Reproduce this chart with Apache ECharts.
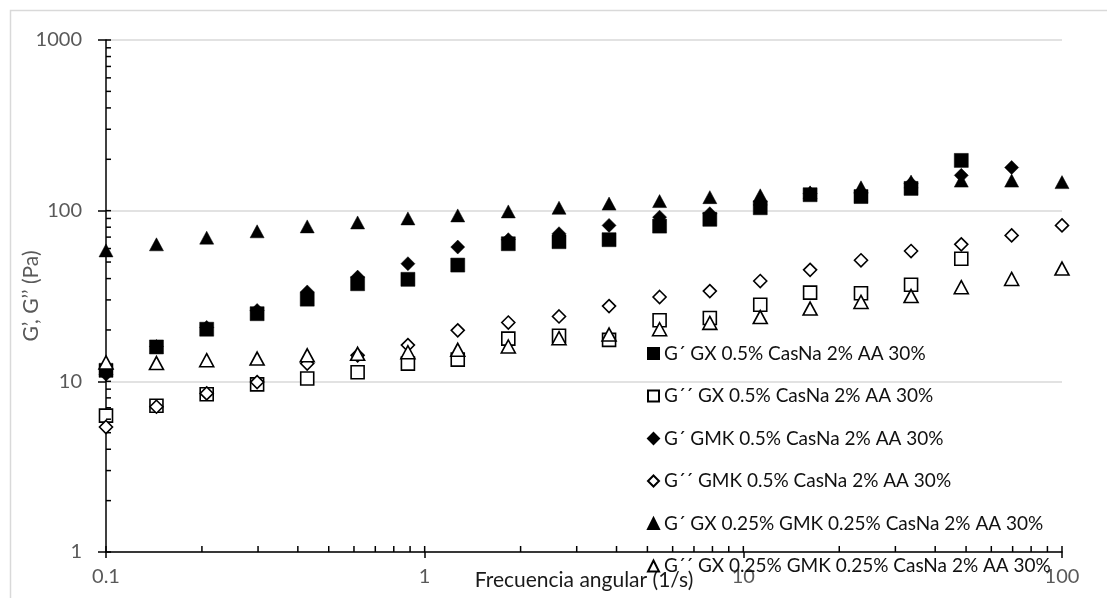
<!DOCTYPE html>
<html>
<head>
<meta charset="utf-8">
<script src="https://cdn.jsdelivr.net/npm/echarts@6/dist/echarts.min.js"></script>
<style>
  html, body { margin: 0; padding: 0; background: #ffffff; }
  #chart { width: 1107px; height: 598px; }
</style>
</head>
<body>
<div id="chart"></div>
<script>
// Angular frequency (1/s)
const frecuencia = [0.1, 0.144, 0.207, 0.298, 0.428, 0.616, 0.886, 1.27, 1.83, 2.64,
                    3.79, 5.46, 7.85, 11.3, 16.2, 23.4, 33.6, 48.3, 69.5, 100];

// Moduli (Pa)
const gpGX      = [11.6, 15.9, 20.2, 24.9, 30.3, 37.3, 39.6, 48, 64, 65.8,
                   67.6, 81.2, 89, 104, 124, 121, 135, 197, null, null];
const gppGX     = [6.3, 7.2, 8.4, 9.6, 10.4, 11.3, 12.7, 13.4, 17.8, 18.5,
                   17.5, 22.8, 23.5, 28.1, 33.1, 32.8, 36.8, 52.3, null, null];
const gpGMK     = [11, 16, 20.7, 26, 33.4, 40.8, 48.9, 61.2, 67.6, 73.3,
                   82, 91.6, 96, 108, 126, 128, 144, 161, 179, null];
const gppGMK    = [5.4, 7.1, 8.5, 9.9, 12.7, 14.2, 16.3, 19.9, 22.1, 24,
                   27.6, 31.2, 33.8, 38.7, 45, 51.2, 58, 63.5, 71.6, 82];
const gpMezcla  = [58.5, 63.5, 69.5, 75.7, 80.9, 85.3, 90.1, 93.8, 99, 104,
                   110, 113.8, 120, 123, 128, 137, 148, 150, 150, 147];
const gppMezcla = [12.9, 12.8, 13.3, 13.6, 14.2, 14.5, 14.8, 15.3, 16.0, 17.9,
                   18.8, 20.2, 22, 23.8, 26.7, 29.2, 31.6, 35.6, 39.8, 45.8];

const nombres = [
  'G\u00b4 GX 0.5% CasNa 2% AA 30%',
  'G\u00b4\u00b4 GX 0.5% CasNa 2% AA 30%',
  'G\u00b4 GMK 0.5% CasNa 2% AA 30%',
  'G\u00b4\u00b4 GMK 0.5% CasNa 2% AA 30%',
  'G\u00b4 GX 0.25% GMK 0.25% CasNa 2% AA 30%',
  'G\u00b4\u00b4 GX 0.25% GMK 0.25% CasNa 2% AA 30%'
];

// Axis tick values
const xTicks = [0.1, 1, 10, 100];
const yTicks = [1, 10, 100, 1000];

const FONT = 'Lato, "Open Sans", sans-serif';

function pares(ys) {
  const out = [];
  for (let i = 0; i < frecuencia.length; i++) {
    if (ys[i] != null) out.push([frecuencia[i], ys[i]]);
  }
  return out;
}

function serie(name, ys, symbol, size, filled) {
  return {
    name: name,
    type: 'scatter',
    data: pares(ys),
    symbol: symbol,
    symbolSize: size,
    itemStyle: filled
      ? { color: '#000000', borderColor: '#000000', borderWidth: 0.5, opacity: 1 }
      : { color: '#ffffff', borderColor: '#000000', borderWidth: 1.6, opacity: 1 },
    emphasis: { disabled: true }
  };
}

// Inside tick marks for the log axes: minor 2..9 per decade plus the inner half of majors
const tickMarks = [];
function decadas(ticks, flag) {
  for (let d = 0; d < ticks.length; d++) {
    const base = ticks[d];
    tickMarks.push(flag === 0 ? [xTicks[0], base, 0] : [base, yTicks[0], 1]);
    if (d < ticks.length - 1) {
      for (let m = 2; m <= 9; m++) {
        const v = +(base * m).toPrecision(3);
        tickMarks.push(flag === 0 ? [xTicks[0], v, 0] : [v, yTicks[0], 1]);
      }
    }
  }
}
decadas(yTicks, 0);
decadas(xTicks, 1);

const chart = echarts.init(document.getElementById('chart'), null, { renderer: 'canvas' });

chart.setOption({
  animation: false,
  backgroundColor: '#ffffff',
  textStyle: { fontFamily: FONT },
  graphic: [{
    type: 'rect',
    left: 8, top: 8,
    shape: { width: 1130, height: 620 },
    style: { fill: 'none', stroke: '#d9d9d9', lineWidth: 1.5 },
    silent: true, z: -10
  }],
  grid: {
    left: 106, right: 45, top: 40, bottom: 46,
    containLabel: false,
    outerBoundsMode: 'none'
  },
  legend: {
    orient: 'vertical',
    left: 642,
    top: 339,
    itemGap: 23.5,
    itemWidth: 11,
    itemHeight: 11,
    data: nombres,
    textStyle: { fontFamily: FONT, fontSize: 19, color: '#111111' },
    selectedMode: false
  },
  xAxis: {
    type: 'log',
    logBase: 10,
    min: xTicks[0],
    max: xTicks[xTicks.length - 1],
    name: 'Frecuencia angular (1/s)',
    nameLocation: 'middle',
    nameGap: 18,
    nameMoveOverlap: false,
    nameTextStyle: { fontFamily: FONT, fontSize: 21, color: '#1a1a1a' },
    axisLine: { lineStyle: { color: '#000000', width: 1.5 } },
    axisTick: { show: true, length: 6, lineStyle: { color: '#000000', width: 1.5 } },
    axisLabel: {
      margin: 15, fontSize: 20, color: '#595959', fontFamily: FONT,
      formatter: function (v) { return String(+v.toPrecision(3)); }
    },
    splitLine: { show: false },
    minorTick: { show: false }
  },
  yAxis: {
    type: 'log',
    logBase: 10,
    min: yTicks[0],
    max: yTicks[yTicks.length - 1],
    name: 'G\u2019, G\u2019\u2019 (Pa)',
    nameLocation: 'middle',
    nameRotate: 90,
    nameGap: 64,
    nameMoveOverlap: false,
    nameTextStyle: { fontFamily: FONT, fontSize: 21, color: '#595959' },
    axisLine: { lineStyle: { color: '#000000', width: 1.5 } },
    axisTick: { show: true, length: 8, lineStyle: { color: '#000000', width: 1.5 } },
    axisLabel: {
      margin: 24, fontSize: 20, color: '#595959', fontFamily: FONT,
      formatter: function (v) { return String(+v.toPrecision(4)); }
    },
    splitLine: { show: true, lineStyle: { color: '#d9d9d9', width: 1.5 } },
    minorTick: { show: false }
  },
  series: [
    serie(nombres[0], gpGX, 'rect', 14, true),
    serie(nombres[1], gppGX, 'rect', 13, false),
    serie(nombres[2], gpGMK, 'diamond', 14, true),
    serie(nombres[3], gppGMK, 'diamond', 13, false),
    serie(nombres[4], gpMezcla, 'triangle', [14, 13], true),
    serie(nombres[5], gppMezcla, 'triangle', [14, 13], false),
    {
      name: 'ticks',
      type: 'custom',
      clip: false,
      silent: true,
      z: 5,
      data: tickMarks,
      renderItem: function (params, api) {
        const p = api.coord([api.value(0), api.value(1)]);
        const vertical = api.value(2) === 1;
        return {
          type: 'line',
          shape: vertical
            ? { x1: p[0], y1: p[1], x2: p[0], y2: p[1] - 6 }
            : { x1: p[0], y1: p[1], x2: p[0] + 5, y2: p[1] },
          style: { stroke: '#000000', lineWidth: 1.5 }
        };
      }
    }
  ]
});
</script>
</body>
</html>
